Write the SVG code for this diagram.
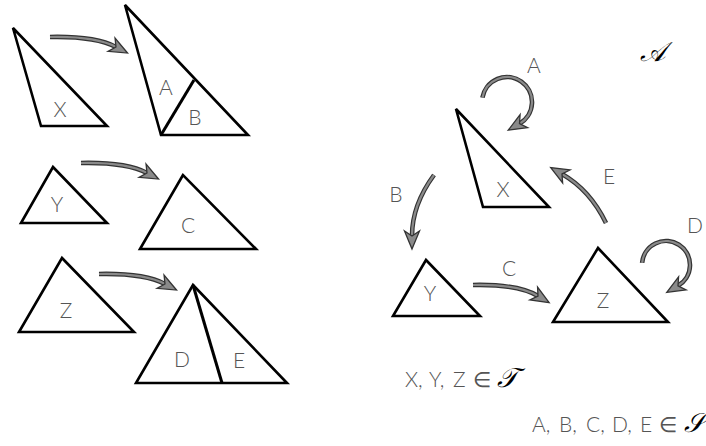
<svg xmlns="http://www.w3.org/2000/svg" width="706" height="446" viewBox="0 0 706 446">
<style>
.tri{fill:none;stroke:#000;stroke-width:2.6;stroke-linejoin:miter}
.div{fill:none;stroke:#000;stroke-width:3}
.lbl{font-family:Lato,"DejaVu Sans",sans-serif;font-weight:300;font-size:21px;fill:#555;text-anchor:middle}
.eq{font-family:Lato,"DejaVu Sans",sans-serif;font-weight:300;font-size:21px;fill:#555}
.scr{font-family:"DejaVu Serif","Liberation Serif",serif;font-style:italic;font-size:27px;fill:#000}
.sh{fill:none;stroke:#333;stroke-width:4.6}
.co{fill:none;stroke:#8a8a8a;stroke-width:2.2;marker-end:url(#head)}
</style>
<defs>
<marker id="head" markerUnits="userSpaceOnUse" markerWidth="30" markerHeight="30" refX="8" refY="10" orient="auto" overflow="visible">
<path d="M21,10 L3,2.5 L8,10 L3,17.5 Z" fill="#8a8a8a" stroke="#333" stroke-width="1.3" stroke-linejoin="miter"/>
</marker>
</defs>
<g id="left-X"><polygon class="tri" points="13,28 41,126 107,126"/><text class="lbl" x="60" y="117">X</text></g>
<g id="left-AB"><polygon class="tri" points="125,5 161,135 248,135"/><line class="div" x1="161" y1="135" x2="194" y2="80"/><text class="lbl" x="166" y="95">A</text><text class="lbl" x="195" y="125">B</text></g>
<g id="left-Y"><polygon class="tri" points="53,167 21,223 107,223"/><text class="lbl" x="57" y="212">Y</text></g>
<g id="left-C"><polygon class="tri" points="183,175 140,249 256,249"/><text class="lbl" x="188" y="233">C</text></g>
<g id="left-Z"><polygon class="tri" points="62,258 19,332 134,332"/><text class="lbl" x="66" y="318">Z</text></g>
<g id="left-DE"><polygon class="tri" points="193,285 136,383 287,383"/><line class="div" x1="193" y1="285" x2="222" y2="383"/><text class="lbl" x="182" y="367">D</text><text class="lbl" x="239" y="368">E</text></g>
<g id="right-X"><polygon class="tri" points="456,109 483,207 549,207"/><text class="lbl" x="503" y="197">X</text></g>
<g id="right-Y"><polygon class="tri" points="426,260 393,316 480,316"/><text class="lbl" x="430" y="301">Y</text></g>
<g id="right-Z"><polygon class="tri" points="598,248 553,322 668,322"/><text class="lbl" x="603" y="308">Z</text></g>
<g id="connectors">
<g><path class="sh" d="M50,37 Q95,36 116,47"/><path class="co" d="M50,37 Q95,36 116,47"/></g>
<g><path class="sh" d="M81,163 Q126,162 147,173"/><path class="co" d="M81,163 Q126,162 147,173"/></g>
<g><path class="sh" d="M99,274 Q144,273 165,284"/><path class="co" d="M99,274 Q144,273 165,284"/></g>
<g><path class="sh" d="M473,285 Q518,284 538,296"/><path class="co" d="M473,285 Q518,284 538,296"/></g>
<g><path class="sh" d="M434,175 Q412,205 412,236"/><path class="co" d="M434,175 Q412,205 412,236"/></g>
<g><path class="sh" d="M606,223 Q590,190 562,174"/><path class="co" d="M606,223 Q590,190 562,174"/></g>
<g><path class="sh" d="M482.4,97.7 A25,25 0 1 1 519.5,123.7"/><path class="co" d="M482.4,97.7 A25,25 0 1 1 519.5,123.7"/></g>
<g><path class="sh" d="M642.1,262.9 A24,24 0 1 1 678,285.8"/><path class="co" d="M642.1,262.9 A24,24 0 1 1 678,285.8"/></g>
</g>
<g id="labels">
<text class="lbl" x="534" y="73">A</text>
<text class="lbl" x="396" y="202">B</text>
<text class="lbl" x="509" y="276">C</text>
<text class="lbl" x="695" y="233">D</text>
<text class="lbl" x="609" y="184">E</text>
<text class="scr" x="640" y="61">𝒜</text>
<text class="eq" y="387"><tspan x="405">X,</tspan><tspan x="429">Y,</tspan><tspan x="453">Z</tspan><tspan x="473">∈</tspan><tspan class="scr" x="497">𝒯</tspan></text>
<text class="eq" y="432"><tspan x="532">A,</tspan><tspan x="559">B,</tspan><tspan x="586">C,</tspan><tspan x="612">D,</tspan><tspan x="640">E</tspan><tspan x="659">∈</tspan><tspan class="scr" x="684">𝒮</tspan></text>
</g>
</svg>
